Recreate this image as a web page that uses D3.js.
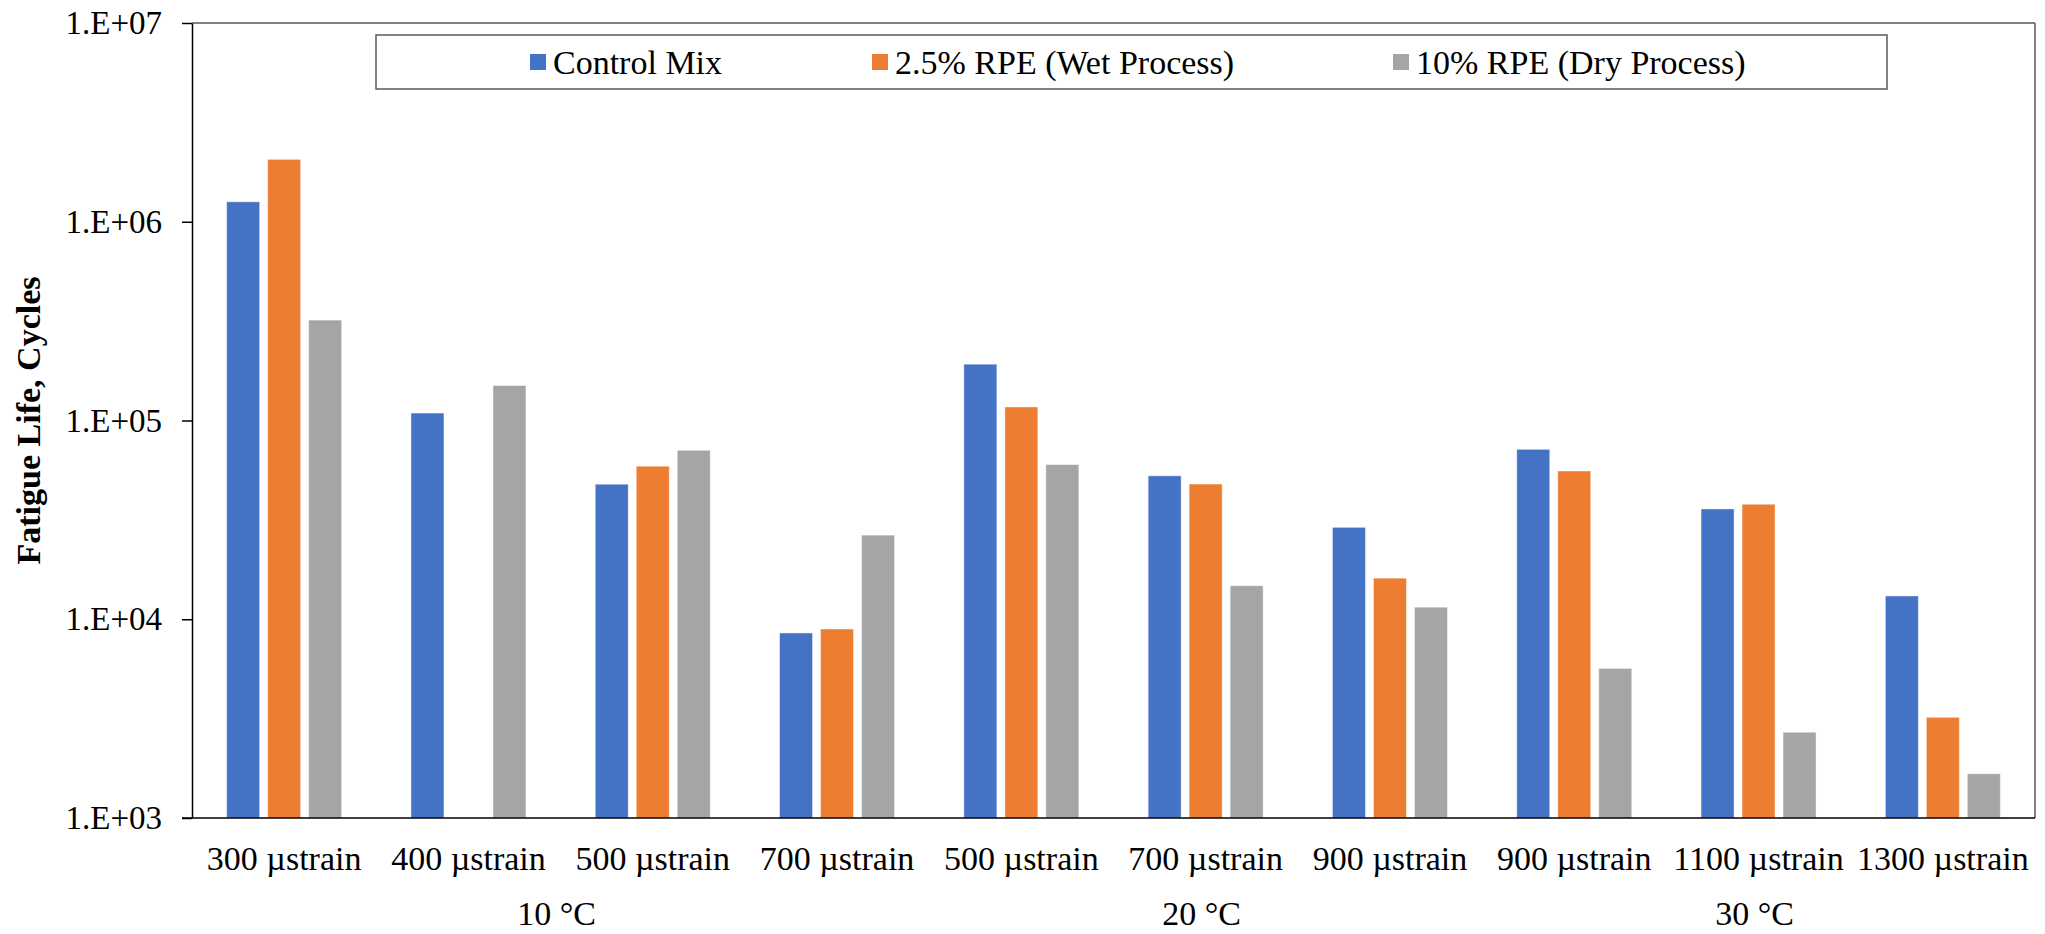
<!DOCTYPE html>
<html>
<head>
<meta charset="utf-8">
<script src="https://cdn.jsdelivr.net/npm/d3@7/dist/d3.min.js"></script>
<style>
  html, body { margin: 0; padding: 0; background: #fff; }
  svg { display: block; }
  text { font-family: "Liberation Serif", "Times New Roman", serif; fill: #000; }
</style>
</head>
<body>
<svg id="chart" width="2045" height="934"></svg>
<script>
// ---- data ----
const categories = ["300 µstrain", "400 µstrain", "500 µstrain", "700 µstrain",
                    "500 µstrain", "700 µstrain", "900 µstrain",
                    "900 µstrain", "1100 µstrain", "1300 µstrain"];
const groups = [
  { label: "10 °C", start: 0, end: 3 },
  { label: "20 °C", start: 4, end: 6 },
  { label: "30 °C", start: 7, end: 9 }
];
const seriesNames = ["Control Mix", "2.5% RPE (Wet Process)", "10% RPE (Dry Process)"];
const controlMix = [1.26e6, 1.09e5, 4.78e4, 8.53e3, 1.92e5, 5.27e4, 2.90e4, 7.16e4, 3.59e4, 1.31e4];
const wetProcess = [2.06e6, null, 5.89e4, 8.93e3, 1.17e5, 4.79e4, 1.61e4, 5.57e4, 3.79e4, 3.21e3];
const dryProcess = [3.20e5, 1.50e5, 7.08e4, 2.65e4, 6.00e4, 1.475e4, 1.15e4, 5.66e3, 2.70e3, 1.67e3];
const yTickValues = [1e3, 1e4, 1e5, 1e6, 1e7];
const yTickLabels = ["1.E+03", "1.E+04", "1.E+05", "1.E+06", "1.E+07"];
const colors = ["#4472C4", "#ED7D31", "#A5A5A5"];
const yTitle = "Fatigue Life, Cycles";

const seriesValues = [controlMix, wetProcess, dryProcess];

// ---- layout ----
const mLeft = 192, mRight = 2035, mTop = 23, mBottom = 818;
const svg = d3.select("#chart");
const serif = '"Liberation Serif", "Times New Roman", serif';

const x0 = d3.scaleBand().domain(d3.range(categories.length)).range([mLeft, mRight]).padding(0);
const groupSpan = 115;
const x1 = d3.scaleBand().domain(d3.range(seriesNames.length)).range([0, groupSpan]).paddingInner(0.195).paddingOuter(0);
const y = d3.scaleLog().domain([1e3, 1e7]).range([mBottom, mTop]);

// ---- bars ----
const barData = [];
seriesValues.forEach((vals, s) => {
  vals.forEach((v, c) => { if (v != null) barData.push({ s, c, v }); });
});
svg.append("g").selectAll("rect").data(barData).enter().append("rect")
  .attr("x", d => x0(d.c) + (x0.bandwidth() - groupSpan) / 2 + x1(d.s))
  .attr("width", x1.bandwidth())
  .attr("y", d => y(d.v))
  .attr("height", d => mBottom - y(d.v))
  .attr("fill", d => colors[d.s])
  .attr("stroke", "#fff")
  .attr("stroke-opacity", 0.45)
  .attr("stroke-width", 1);

// ---- plot border (top/right) ----
svg.append("line").attr("x1", mLeft).attr("x2", mRight).attr("y1", mTop).attr("y2", mTop)
  .attr("stroke", "#595959").attr("stroke-width", 1.5);
svg.append("line").attr("x1", mRight).attr("x2", mRight).attr("y1", mTop).attr("y2", mBottom)
  .attr("stroke", "#595959").attr("stroke-width", 1.5);

// ---- y axis ----
const yAxis = d3.axisLeft(y).tickValues(yTickValues)
  .tickFormat((d, i) => yTickLabels[i]).tickSize(10).tickSizeOuter(0).tickPadding(20);
const gy = svg.append("g").attr("transform", `translate(${mLeft},0)`).call(yAxis);
gy.select(".domain").attr("stroke", "#000").attr("stroke-width", 1.5);
gy.selectAll(".tick line").attr("stroke", "#000").attr("stroke-width", 1.5);
gy.selectAll(".tick text").style("font-size", "33px").style("font-family", serif).attr("fill", "#000");

// ---- x axis ----
const xAxis = d3.axisBottom(x0).tickFormat(i => categories[i]).tickSize(0).tickSizeOuter(0).tickPadding(28);
const gx = svg.append("g").attr("transform", `translate(0,${mBottom})`).call(xAxis);
gx.select(".domain").attr("stroke", "#000").attr("stroke-width", 1.5).attr("d", `M${mLeft - 10},0H${mRight}`);
gx.selectAll(".tick text").style("font-size", "34px").style("font-family", serif).attr("fill", "#000");

// group labels
svg.append("g").selectAll("text").data(groups).enter().append("text")
  .attr("x", d => (x0(d.start) + x0(d.end) + x0.bandwidth()) / 2 - 4)
  .attr("y", 925)
  .attr("text-anchor", "middle")
  .style("font-size", "34px").style("font-family", serif)
  .text(d => d.label);

// y title
svg.append("text")
  .attr("transform", `translate(40,${(mTop + mBottom) / 2}) rotate(-90)`)
  .attr("text-anchor", "middle")
  .style("font-size", "34px").style("font-weight", "bold").style("font-family", serif)
  .text(yTitle);

// ---- legend ----
const legend = svg.append("g");
legend.append("rect").attr("x", 376).attr("y", 35).attr("width", 1511).attr("height", 54)
  .attr("fill", "#fff").attr("stroke", "#595959").attr("stroke-width", 1.5);
const legendX = [530, 872, 1393];
const items = legend.selectAll("g.item").data(seriesNames).enter().append("g")
  .attr("transform", (d, i) => `translate(${legendX[i]},62)`);
items.append("rect").attr("x", 0).attr("y", -8).attr("width", 16).attr("height", 16)
  .attr("fill", (d, i) => colors[i]);
items.append("text").attr("x", 23).attr("y", 12)
  .style("font-size", "34px").style("font-family", serif).text(d => d);
</script>
</body>
</html>
